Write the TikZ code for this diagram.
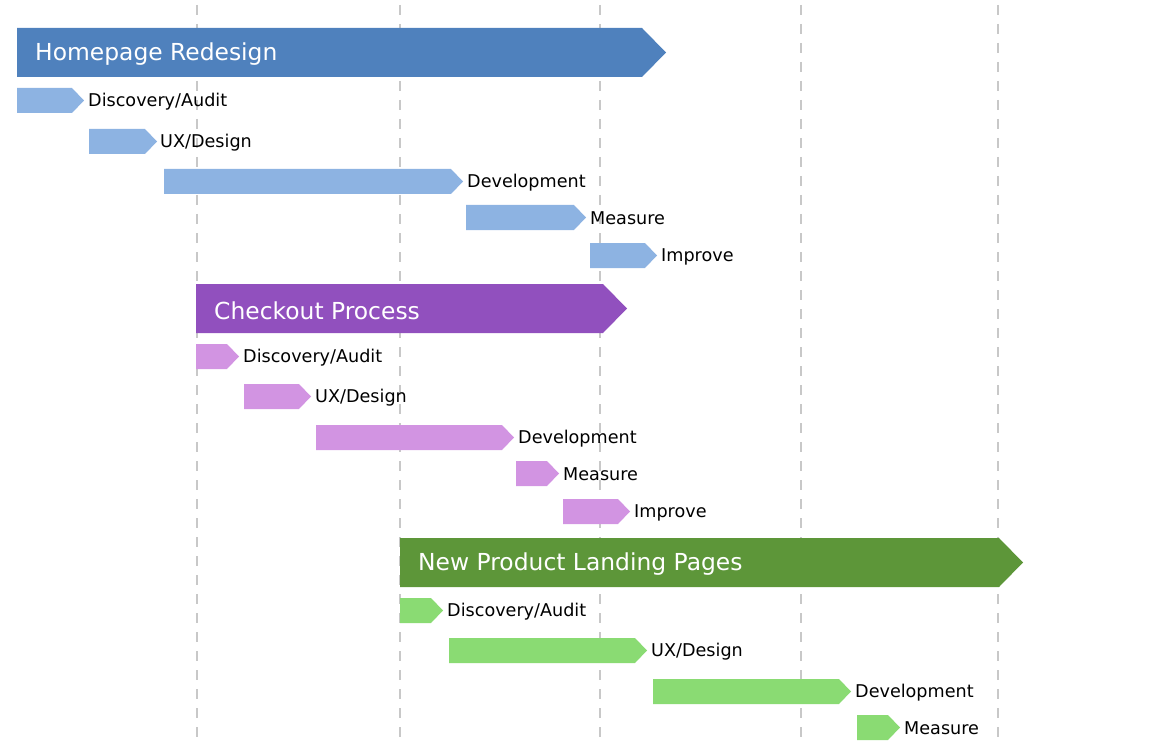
\documentclass[tikz,border=0pt]{standalone}
\usepackage{fontspec}
\setmainfont{DejaVu Sans}
\definecolor{hpdark}{RGB}{79,129,189}
\definecolor{hplight}{RGB}{141,179,226}
\definecolor{codark}{RGB}{145,80,190}
\definecolor{colight}{RGB}{210,148,226}
\definecolor{npdark}{RGB}{93,150,57}
\definecolor{nplight}{RGB}{138,219,115}
\definecolor{gridgray}{RGB}{200,200,200}
\newcommand{\phasebar}[4]{\fill[#4] (#1,#3) -- (#2,#3) -- ++(24,24.5) -- (#2,#3+49) -- (#1,#3+49) -- cycle;}
\newcommand{\taskbar}[4]{\fill[#4] (#1,#3) -- (#2,#3) -- ++(12,12.5) -- (#2,#3+25) -- (#1,#3+25) -- cycle;}
\begin{document}
\begin{tikzpicture}[x=1pt,y=-1pt]
	\tikzset{phase/.style={anchor=west,inner sep=0pt,yshift=-2pt,text=white,font=\fontsize{23.4}{26}\selectfont}}
	\tikzset{task/.style={anchor=west,inner sep=0pt,yshift=-1pt,font=\fontsize{17.6}{20}\selectfont}}
	\useasboundingbox (0,0) rectangle (1156,746);
	
	% grid
	\foreach \gx in {197,400,600,801,998}
	\draw[gridgray,line width=2pt,dash pattern=on 10pt off 9pt] (\gx,5) -- (\gx,746);
	
	% Homepage Redesign
	\phasebar{17}{642}{28}{hpdark}
	\node[phase] (hp) at (35,52.5) {Homepage Redesign};
	\taskbar{17}{72}{88}{hplight}
	\node[task] (hp1) at (88,100.5) {Discovery/Audit};
	\taskbar{89}{145}{129}{hplight}
	\node[task] (hp2) at (160,141.5) {UX/Design};
	\taskbar{164}{451}{169}{hplight}
	\node[task] (hp3) at (467,181.5) {Development};
	\taskbar{466}{574}{205}{hplight}
	\node[task] (hp4) at (590,217.5) {Measure};
	\taskbar{590}{645}{243}{hplight}
	\node[task] (hp5) at (661,255.5) {Improve};
	
	% Checkout Process
	\phasebar{196}{603}{284}{codark}
	\node[phase] (co) at (214,308.5) {Checkout Process};
	\taskbar{196}{227}{344}{colight}
	\node[task] (co1) at (243,356.5) {Discovery/Audit};
	\taskbar{244}{299}{384}{colight}
	\node[task] (co2) at (315,396.5) {UX/Design};
	\taskbar{316}{502}{425}{colight}
	\node[task] (co3) at (518,437.5) {Development};
	\taskbar{516}{547}{461}{colight}
	\node[task] (co4) at (563,473.5) {Measure};
	\taskbar{563}{618}{499}{colight}
	\node[task] (co5) at (634,511.5) {Improve};
	
	% New Product Landing Pages
	\phasebar{400}{999}{538}{npdark}
	\node[phase] (np) at (418,562.5) {New Product Landing Pages};
	\taskbar{400}{431}{598}{nplight}
	\node[task] (np1) at (447,610.5) {Discovery/Audit};
	\taskbar{449}{635}{638}{nplight}
	\node[task] (np2) at (651,650.5) {UX/Design};
	\taskbar{653}{839}{679}{nplight}
	\node[task] (np3) at (855,691.5) {Development};
	\taskbar{857}{888}{715}{nplight}
	\node[task] (np4) at (904,727.5) {Measure};
	
\end{tikzpicture}
\end{document}
